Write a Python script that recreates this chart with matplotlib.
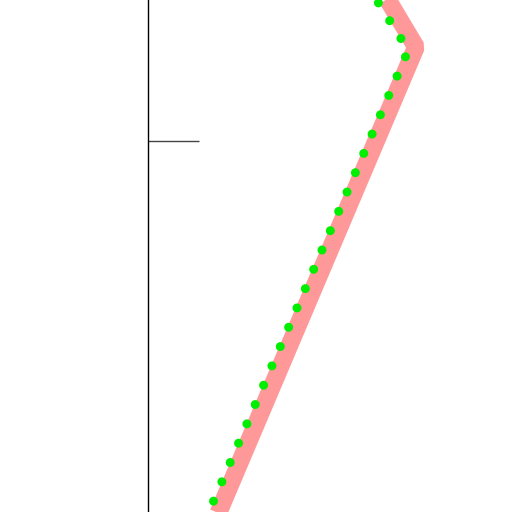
import matplotlib
matplotlib.use("Agg")
import matplotlib.pyplot as plt

# Series values (data units)
pink_x = [50.4, 268.0, 216.0]
pink_y = [-48.0, 465.0, 552.0]
green_x = [40.1, 260.3, 203.3]
green_y = [-48.0, 461.8, 552.0]
ytick_values = [371]
ytick_labels = [""]

fig = plt.figure(figsize=(5.12, 5.12), dpi=100)
ax = fig.add_axes([148/512, 0, 364/512, 1])
ax.set_xlim(0, 364)
ax.set_ylim(0, 512)

ax.plot(pink_x, pink_y, color="#ff9999", lw=12.8, solid_joinstyle="bevel",
        solid_capstyle="butt", zorder=2)
line, = ax.plot(green_x, green_y, color="#00ee00", lw=6.5, zorder=3)
line.set_linestyle((0.9, (0.001, 2.33)))
line.set_dash_capstyle("round")

for s in ["top", "right", "bottom"]:
    ax.spines[s].set_visible(False)
ax.spines["left"].set_color("black")
ax.spines["left"].set_linewidth(1.0)
ax.set_xticks([])
ax.set_yticks(ytick_values)
ax.set_yticklabels(ytick_labels)
ax.tick_params(axis="y", direction="in", length=36.7, width=1.0, color="#444444")

fig.savefig("out.png", dpi=100)
